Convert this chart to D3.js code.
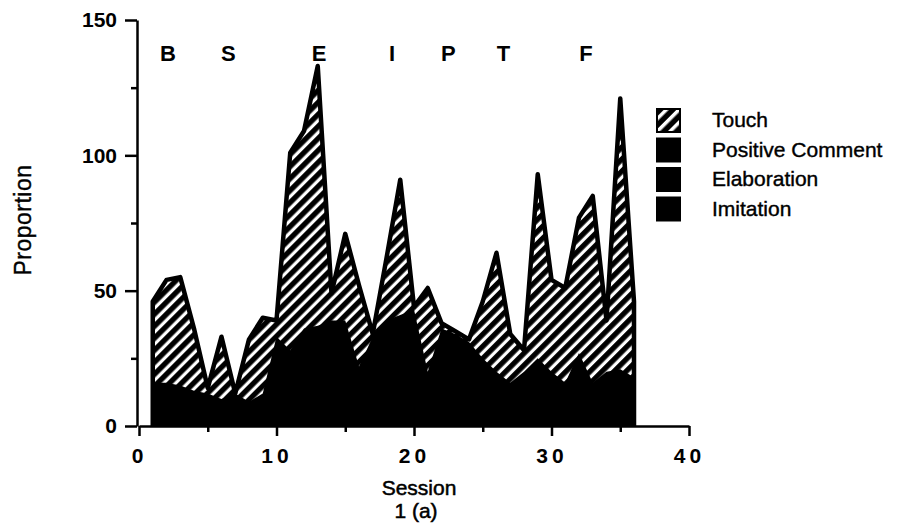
<!DOCTYPE html>
<html>
<head>
<meta charset="utf-8">
<script src="https://cdn.jsdelivr.net/npm/d3@7"></script>
<style>
  body { margin: 0; background: #fff; }
  text { font-family: "Liberation Sans", Arial, Helvetica, sans-serif; fill: #000; }
</style>
</head>
<body>
<svg width="905" height="526"></svg>
<script>
// sessions 1..36, values
var sessions = d3.range(1, 37);
var imitation = [7,6,6,5,5,4,5,4,5,14,12,15,16,17,16,9,14,16,18,19,8,15,14,13,11,9,7,8,11,9,7,12,7,8,9,8];
var elaboration = [5,5,5,4,4,3,4,3,4,10,9,11,11,12,12,7,10,12,12,13,6,11,10,9,7,6,5,6,7,6,5,8,5,6,6,5];
var positiveComment = [4,5,4,4,3,3,3,2,3,9,7,10,10,10,11,6,9,11,11,11,6,10,10,9,7,5,4,6,7,5,4,7,4,6,6,5];
var touch = [30,38,40,23,2,23,0,23,28,6,73,73,96,10,32,30,1,23,50,1,31,2,1,1,21,44,18,8,68,34,35,50,69,19,100,28];

var seriesNames = ['Touch', 'Positive Comment', 'Elaboration', 'Imitation'];
// phase letters and the session they sit over
var phaseLabels = ['B', 'S', 'E', 'I', 'P', 'T', 'F'];
var phasePos = [2.1, 6.5, 13.1, 18.4, 22.5, 26.5, 32.5];

var xTicksMajor = [0, 10, 20, 30, 40];
var xTicksMinor = [5, 15, 25, 35];
var yTicksMajor = [0, 50, 100, 150];
var yTicksMinor = [25, 75, 125];

var svg = d3.select('svg');

var x = d3.scaleLinear().domain([0, 40]).range([139, 689]);
var y = d3.scaleLinear().domain([0, 150]).range([426, 20]);

// hatch pattern: white "/" stripes over black
var defs = svg.append('defs');
var pat = defs.append('pattern')
    .attr('id', 'hatch')
    .attr('patternUnits', 'userSpaceOnUse')
    .attr('width', 8.5)
    .attr('height', 8.5)
    .attr('patternTransform', 'rotate(45)');
pat.append('rect').attr('width', 8.5).attr('height', 8.5).attr('fill', '#000');
pat.append('rect').attr('x', 2.5).attr('width', 3.2).attr('height', 8.5).attr('fill', '#fff');

var pat2 = defs.append('pattern')
    .attr('id', 'hatchLegend')
    .attr('patternUnits', 'userSpaceOnUse')
    .attr('width', 9)
    .attr('height', 9)
    .attr('patternTransform', 'translate(657,110) rotate(45)');
pat2.append('rect').attr('width', 9).attr('height', 9).attr('fill', '#000');
pat2.append('rect').attr('x', 3).attr('width', 3.5).attr('height', 9).attr('fill', '#fff');

var rows = sessions.map(function (s, i) {
    return {
        session: s,
        'Imitation': imitation[i],
        'Elaboration': elaboration[i],
        'Positive Comment': positiveComment[i],
        'Touch': touch[i]
    };
});

var stack = d3.stack().keys(['Imitation', 'Elaboration', 'Positive Comment', 'Touch']);
var layers = stack(rows);

var area = d3.area()
    .x(function (d) { return x(d.data.session); })
    .y0(function (d) { return y(d[0]); })
    .y1(function (d) { return y(d[1]); });

svg.append('g').selectAll('path')
    .data(layers)
    .enter().append('path')
    .attr('d', area)
    .attr('fill', function (d) { return d.key === 'Touch' ? 'url(#hatch)' : '#000'; })
    .attr('stroke', function (d) { return d.key === 'Touch' ? 'none' : '#000'; })
    .attr('stroke-width', 2);

// outline of the whole stack
var topLayer = layers[layers.length - 1];
var outlinePts = [[topLayer[0].data.session, 0]]
    .concat(topLayer.map(function (d) { return [d.data.session, d[1]]; }))
    .concat([[topLayer[topLayer.length - 1].data.session, 0]]);
svg.append('path')
    .attr('d', d3.line().x(function (d) { return x(d[0]); }).y(function (d) { return y(d[1]); })(outlinePts))
    .attr('fill', 'none')
    .attr('stroke', '#000')
    .attr('stroke-width', 4.5)
    .attr('stroke-linejoin', 'round');

// axes
function styleAxis(g) {
    g.selectAll('path, line').attr('stroke', '#000').attr('stroke-width', 2.5);
}
svg.append('g')
    .attr('transform', 'translate(0,426)')
    .call(d3.axisBottom(x).tickValues(xTicksMinor).tickSize(6).tickSizeOuter(0).tickFormat(''))
    .call(styleAxis);
var xg = svg.append('g')
    .attr('transform', 'translate(0,426)')
    .call(d3.axisBottom(x).tickValues(xTicksMajor).tickSize(10).tickSizeOuter(0).tickPadding(12))
    .call(styleAxis);
xg.select('.domain').remove();
xg.selectAll('text')
    .attr('font-size', 21)
    .attr('font-weight', 'bold')
    .style('letter-spacing', '4px')
    .attr('font-family', '"Liberation Sans", Arial, sans-serif');

svg.append('g')
    .attr('transform', 'translate(137,0)')
    .call(d3.axisLeft(y).tickValues(yTicksMinor).tickSize(6).tickSizeOuter(0).tickFormat(''))
    .call(styleAxis);
var yg = svg.append('g')
    .attr('transform', 'translate(137,0)')
    .call(d3.axisLeft(y).tickValues(yTicksMajor).tickSize(12).tickSizeOuter(0).tickPadding(8))
    .call(styleAxis);
yg.select('.domain').remove();
yg.selectAll('text')
    .attr('font-size', 21)
    .attr('font-weight', 'bold')
    .attr('font-family', '"Liberation Sans", Arial, sans-serif');

// phase letters
svg.append('g').selectAll('text')
    .data(phaseLabels)
    .enter().append('text')
    .attr('x', function (d, i) { return x(phasePos[i]); })
    .attr('y', 61)
    .attr('text-anchor', 'middle')
    .attr('font-size', 22)
    .attr('font-weight', 'bold')
    .text(function (d) { return d; });

// axis titles
svg.append('text')
    .attr('transform', 'translate(31,220) rotate(-90)')
    .attr('text-anchor', 'middle')
    .attr('font-size', 23)
    .style('letter-spacing', '0.5px')
    .attr('stroke', '#000').attr('stroke-width', 0.4)
    .text('Proportion');
svg.append('text')
    .attr('x', 419).attr('y', 495)
    .attr('text-anchor', 'middle')
    .attr('font-size', 21)
    .attr('stroke', '#000').attr('stroke-width', 0.5)
    .text('Session');
svg.append('text')
    .attr('x', 416).attr('y', 518)
    .attr('text-anchor', 'middle')
    .attr('font-size', 21)
    .attr('stroke', '#000').attr('stroke-width', 0.5)
    .text('1 (a)');

// legend
var legend = svg.append('g').attr('transform', 'translate(657,109)');
var item = legend.selectAll('g')
    .data(seriesNames)
    .enter().append('g')
    .attr('transform', function (d, i) { return 'translate(0,' + (i * 29.5) + ')'; });
item.append('rect')
    .attr('width', 23)
    .attr('height', 23)
    .attr('fill', function (d, i) { return i === 0 ? 'url(#hatchLegend)' : '#000'; })
    .attr('stroke', '#000')
    .attr('stroke-width', 2);
item.append('text')
    .attr('x', 55)
    .attr('y', 18)
    .attr('font-size', 21)
    .attr('stroke', '#000').attr('stroke-width', 0.4)
    .text(function (d) { return d; });
</script>
</body>
</html>
